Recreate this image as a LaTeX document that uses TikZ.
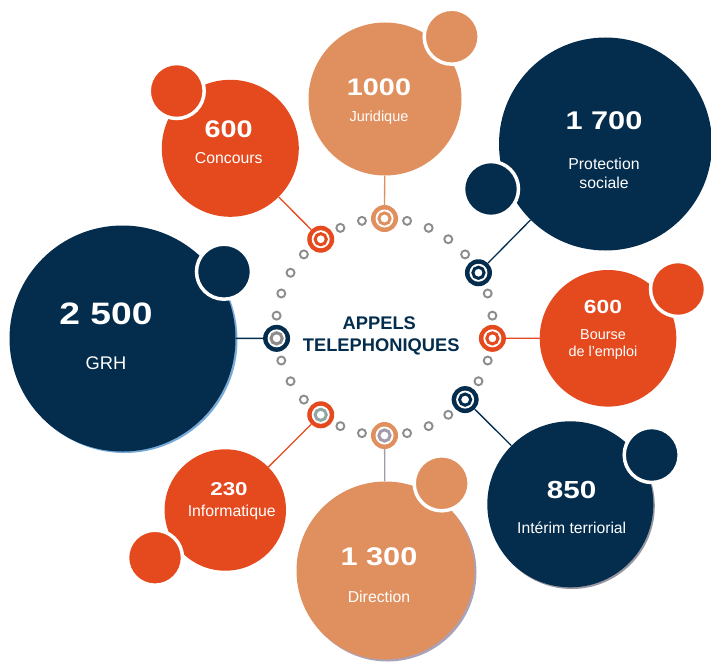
\documentclass[tikz,border=0pt]{standalone}
\usepackage{fontspec}
\setmainfont{Liberation Sans}
\newfontfamily\numfont{Liberation Sans}[FakeStretch=1.2]
\usetikzlibrary{calc}
\definecolor{navy}{RGB}{3,44,77}
\definecolor{ored}{RGB}{229,74,31}
\definecolor{lorange}{RGB}{224,144,94}
\definecolor{dotgray}{RGB}{140,140,140}
\definecolor{mauve}{RGB}{164,155,170}
\definecolor{tealgray}{RGB}{143,168,164}
\definecolor{grhshadow}{RGB}{120,170,215}
\definecolor{dirshadow}{RGB}{170,162,185}
\definecolor{intshadow}{RGB}{150,150,160}
\begin{document}
\begin{tikzpicture}[x=1pt,y=-1pt,
  big/.style={circle, fill=#1, inner sep=0pt},
  smallc/.style={circle, fill=#1, draw=white, line width=3.5pt, minimum size=55pt, inner sep=0pt},
  mk/.style={circle, fill=#1, minimum size=27pt, inner sep=0pt},
  dotc/.style={circle, draw=dotgray, fill=white, line width=1.9pt, minimum size=8pt, inner sep=0pt},
  conn/.style={draw=#1, line width=1.3pt},
  num/.style={text=white, inner sep=0pt, anchor=base, font=\numfont\bfseries\fontsize{#1}{#1}\selectfont},
  lab/.style={text=white, inner sep=0pt, anchor=base, font=\fontsize{#1}{#1}\selectfont},
  title/.style={text=navy, inner sep=0pt, anchor=base, font=\bfseries\fontsize{18.3}{18.3}\selectfont}]
\useasboundingbox (0,0) rectangle (711,661);
\coordinate (ctr) at (384.5,327);

% shadows
\fill[grhshadow] (124.5,340) circle[radius=113pt];
\fill[dirshadow] (387.5,572.5) circle[radius=89pt];
\fill[intshadow] (571.8,506) circle[radius=83pt];

% big circles
\node[big=lorange, minimum size=153pt] (cJur) at (385,99) {};
\node[big=ored, minimum size=137pt] (cCon) at (230.3,148.3) {};
\node[big=navy, minimum size=213pt] (cPro) at (605.5,144) {};
\node[big=navy, minimum size=226pt] (cGRH) at (122.5,338.5) {};
\node[big=ored, minimum size=136.6pt] (cBou) at (608,338.3) {};
\node[big=navy, minimum size=166pt] (cInt) at (570.3,504.3) {};
\node[big=ored, minimum size=121.4pt] (cInf) at (225.3,510) {};
\node[big=lorange, minimum size=178pt] (cDir) at (385.5,570.5) {};

% small circles
\node[smallc=lorange] (sJur) at (451.7,36.7) {};
\node[smallc=ored] (sCon) at (176.7,91) {};
\node[smallc=navy] (sPro) at (491,189) {};
\node[smallc=navy] (sGRH) at (224,271.7) {};
\node[smallc=ored] (sBou) at (678,289) {};
\node[smallc=navy] (sInt) at (651.7,455) {};
\node[smallc=ored] (sInf) at (155,557.7) {};
\node[smallc=lorange] (sDir) at (441.7,483.3) {};

% ring dots (y axis points down, so angles are negated)
\foreach \k in {1,2,4,5,6,7,9,10,11,13,14,16,17,18,20,21,23,24,26,27,28,29}
  \node[dotc] (d\k) at ($(ctr)+({-90-12*\k}:108.5)$) {};

% markers
\node[mk=lorange] (mJur) at ($(ctr)+(-90:108.5)$) {};
\node[mk=ored] (mCon) at ($(ctr)+(-126:108.5)$) {};
\node[mk=navy] (mGRH) at ($(ctr)+(-186:108.5)$) {};
\node[mk=ored] (mInf) at ($(ctr)+(-234:108.5)$) {};
\node[mk=lorange] (mDir) at ($(ctr)+(-270:108.5)$) {};
\node[mk=navy] (mInt) at ($(ctr)+(-318:108.5)$) {};
\node[mk=ored] (mBou) at ($(ctr)+(-354:108.5)$) {};
\node[mk=navy] (mPro) at ($(ctr)+(-30:108.5)$) {};

\foreach \m/\c in {mJur/lorange, mCon/ored, mGRH/dotgray, mInf/tealgray, mDir/mauve, mInt/navy, mBou/ored, mPro/navy} {
  \fill[white] (\m) circle[radius=9pt];
  \draw[\c, line width=3pt] (\m) circle[radius=5.6pt];
}

% connectors
\draw[conn=lorange] (mJur) -- (cJur);
\draw[conn=ored] (mCon) -- (cCon);
\draw[conn=navy] (mPro) -- (cPro);
\draw[conn=navy] (mGRH) -- (cGRH);
\draw[conn=ored] (mBou) -- (cBou);
\draw[conn=navy] (mInt) -- (cInt);
\draw[conn=ored] (mInf) -- (cInf);
\draw[conn=mauve] (mDir) -- (cDir);

% texts
\node[title] (t1) at (379.3,329.3) {APPELS};
\node[title] (t2) at (381.2,351.5) {TELEPHONIQUES};

\node[num=24] (nJur) at (379,95.6) {1000};
\node[lab=14.5] (lJur) at (379,121.5) {Juridique};

\node[num=24] (nCon) at (228.7,137.3) {600};
\node[lab=15.8] (lCon) at (228.7,163) {Concours};

\node[num=25.6] (nPro) at (604,129.9) {1 700};
\node[lab=15.8] (lPro1) at (604,169.7) {Protection};
\node[lab=15.8] (lPro2) at (604,188.2) {sociale};

\node[num=31] (nGRH) at (106,324.1) {2 500};
\node[lab=18.3] (lGRH) at (106,369.6) {GRH};

\node[num=19] (nBou) at (603,313.8) {600};
\node[lab=14.4] (lBou1) at (603,339.2) {Bourse};
\node[lab=14.4] (lBou2) at (603,356.5) {de l’emploi};

\node[num=24.7] (nInt) at (571.7,498.8) {850};
\node[lab=15.7] (lInt) at (571.7,533) {Intérim terriorial};

\node[num=18.6] (nInf) at (229,495.7) {230};
\node[lab=15.8] (lInf) at (231.7,516.5) {Informatique};

\node[num=25.6] (nDir) at (379,565.9) {1 300};
\node[lab=15.8] (lDir) at (379,602.7) {Direction};
\end{tikzpicture}
\end{document}
